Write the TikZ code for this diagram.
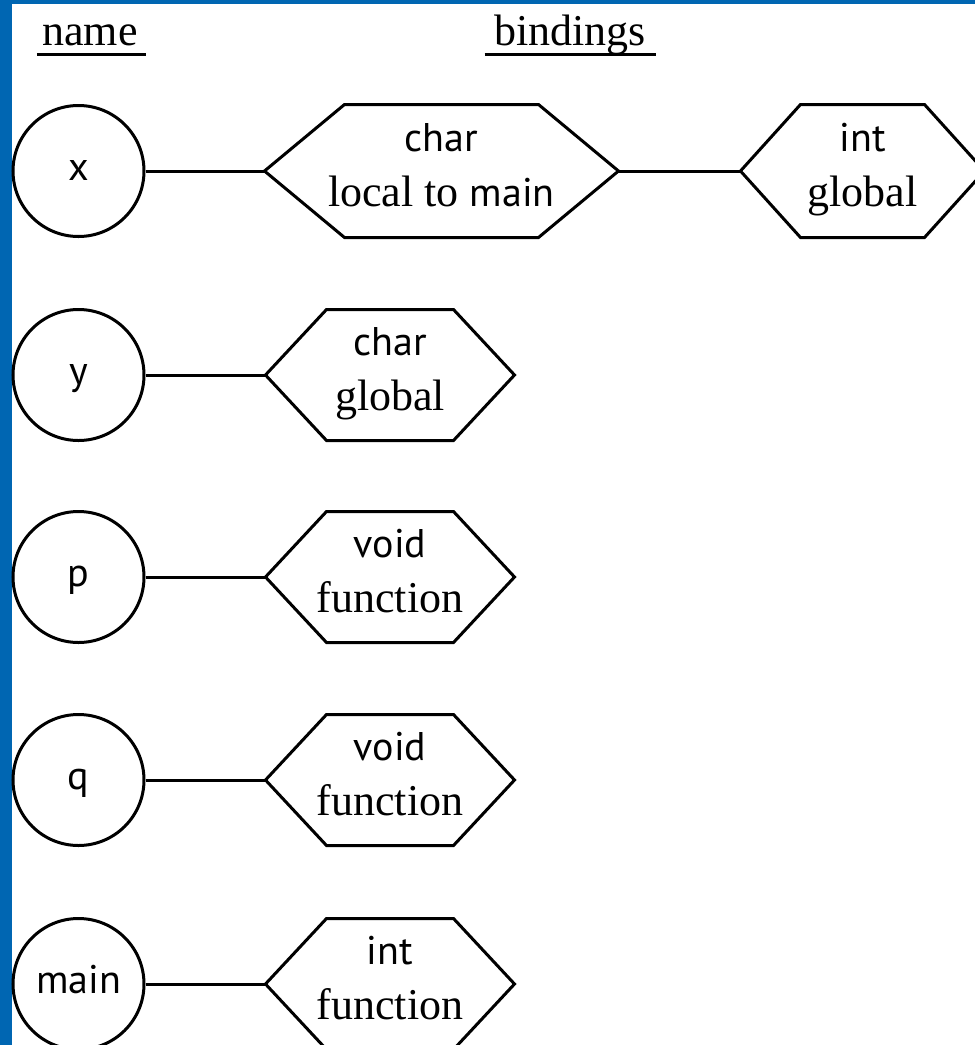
\documentclass[tikz,border=0pt]{standalone}
\usepackage{fontspec}
\setmainfont{Liberation Serif}
\newfontfamily\sansf{PT Sans}
\definecolor{frameblue}{RGB}{0,102,178}
\newcommand\hexpath[2]{\draw (#1.west) -- ([xshift=#2]#1.north west) -- ([xshift=-#2]#1.north east) -- (#1.east) -- ([xshift=-#2]#1.south east) -- ([xshift=#2]#1.south west) -- cycle;}
\begin{document}
\begin{tikzpicture}[x=0.5pt,y=-0.5pt,line width=1.5pt,
  namecirc/.style={circle,draw,minimum size=65.5pt,inner sep=0pt},
  hexbox/.style={rectangle,draw=none,inner sep=0pt,minimum height=64pt},
  serif/.style={font=\fontsize{22}{26}\selectfont,inner sep=0pt},
  sanslab/.style={font=\sansf\fontsize{20}{24}\selectfont,inner sep=0pt},
  upper/.style={anchor=base,yshift=10pt},
  lower/.style={anchor=base,yshift=-17.5pt}]
\useasboundingbox (0,0) rectangle (975,1045);
\clip (0,0) rectangle (975,1045);
\fill[white] (0,0) rectangle (975,1045);
\fill[frameblue] (0,0) rectangle (12,1045);
\fill[frameblue] (0,0) rectangle (975,4);

% headers
\node[serif,anchor=base] (hname) at (90,45) {name};
\node[serif,anchor=base] (hbind) at (570,45) {bindings};
\draw ([xshift=-2pt,yshift=-4.5pt]hname.base west) -- ([xshift=3.5pt,yshift=-4.5pt]hname.base east);
\draw ([xshift=-4pt,yshift=-4.5pt]hbind.base west) -- ([xshift=4.5pt,yshift=-4.5pt]hbind.base east);

% name circles
\node[namecirc] (cx) at (78.5,171) {};
\node[namecirc] (cy) at (78.5,375) {};
\node[namecirc] (cp) at (78.5,577) {};
\node[namecirc] (cq) at (78.5,780) {};
\node[namecirc] (cm) at (78.5,984) {};
\node[sanslab,anchor=base,yshift=-4.5pt] (lx) at (cx.center) {x};
\node[sanslab,anchor=base,yshift=-4.5pt] (ly) at (cy.center) {y};
\node[sanslab,anchor=base,yshift=-4.5pt] (lp) at (cp.center) {p};
\node[sanslab,anchor=base,yshift=-4.5pt] (lq) at (cq.center) {q};
\node[sanslab,anchor=base,yshift=-4.5pt] (lm) at (cm.center) {main};

% binding hexagons
\node[hexbox,minimum width=175.5pt,minimum height=65pt] (hx1) at (441.5,171) {};
\node[hexbox,minimum width=120.5pt,minimum height=65pt] (hx2) at (862.5,171) {};
\node[hexbox,minimum width=123pt] (hy) at (390,375) {};
\node[hexbox,minimum width=123pt] (hp) at (390,577) {};
\node[hexbox,minimum width=123pt] (hq) at (390,780) {};
\node[hexbox,minimum width=123pt] (hm) at (390,984) {};
\hexpath{hx1}{40pt}
\hexpath{hx2}{30pt}
\hexpath{hy}{30.5pt}
\hexpath{hp}{30.5pt}
\hexpath{hq}{30.5pt}
\hexpath{hm}{30.5pt}

% hexagon texts
\node[sanslab,upper] (tx1a) at (hx1.center) {char};
\node[serif,lower] (tx1b) at (hx1.center) {local to {\sansf\fontsize{20}{24}\selectfont main}};
\node[sanslab,upper] (tx2a) at (hx2.center) {int};
\node[serif,lower] (tx2b) at (hx2.center) {global};
\node[sanslab,upper] (tya) at (hy.center) {char};
\node[serif,lower] (tyb) at (hy.center) {global};
\node[sanslab,upper] (tpa) at (hp.center) {void};
\node[serif,lower] (tpb) at (hp.center) {function};
\node[sanslab,upper] (tqa) at (hq.center) {void};
\node[serif,lower] (tqb) at (hq.center) {function};
\node[sanslab,upper] (tma) at (hm.center) {int};
\node[serif,lower] (tmb) at (hm.center) {function};

% connectors
\draw (cx.east) -- (hx1.west);
\draw (hx1.east) -- (hx2.west);
\draw (cy.east) -- (hy.west);
\draw (cp.east) -- (hp.west);
\draw (cq.east) -- (hq.west);
\draw (cm.east) -- (hm.west);
\end{tikzpicture}
\end{document}
